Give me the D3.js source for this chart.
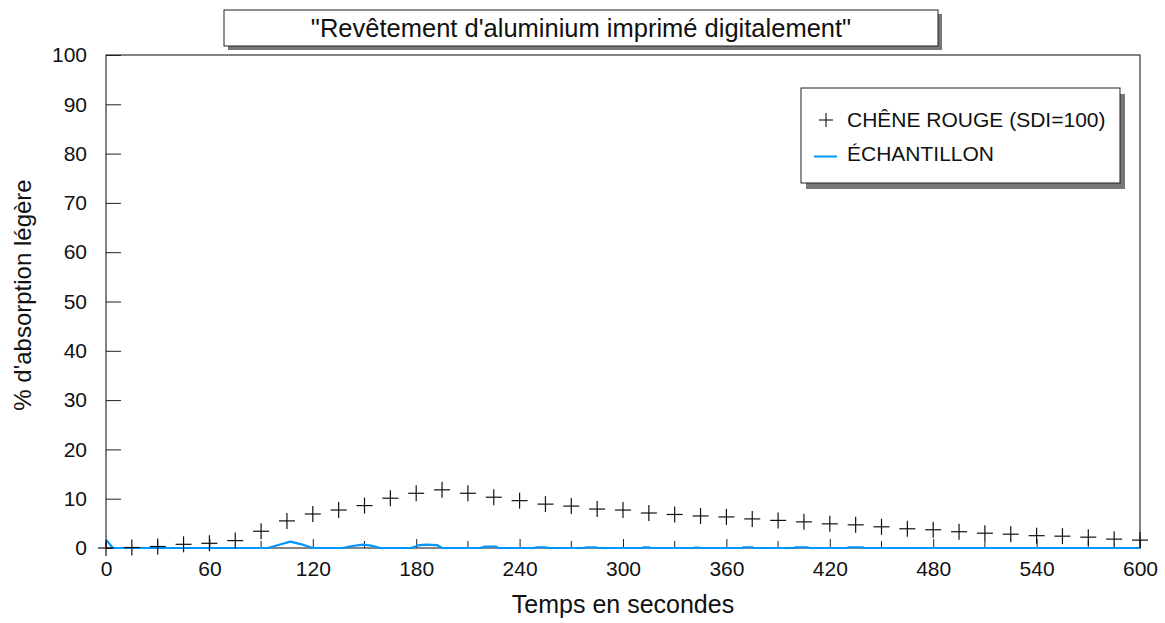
<!DOCTYPE html>
<html>
<head>
<meta charset="utf-8">
<script src="https://cdn.jsdelivr.net/npm/d3@7"></script>
<style>
  body { margin: 0; background: #fff; }
  svg { display: block; font-family: "Liberation Sans", Arial, sans-serif; }
</style>
</head>
<body>
<svg id="chart" width="1165" height="623"></svg>
<script>
// Chêne rouge (référence), un point toutes les 15 s
var oakTimes = [0, 15, 30, 45, 60, 75, 90, 105, 120, 135, 150, 165, 180, 195, 210, 225, 240, 255, 270, 285,
                300, 315, 330, 345, 360, 375, 390, 405, 420, 435, 450, 465, 480, 495, 510, 525, 540, 555, 570, 585, 600];
var oakValues = [0, 0.1, 0.3, 0.75, 0.95, 1.5, 3.4, 5.5, 6.9, 7.7, 8.6, 10.1, 11.1, 11.8, 11.1, 10.3, 9.6, 8.9, 8.5, 7.9,
                 7.7, 7.1, 6.8, 6.5, 6.3, 5.9, 5.6, 5.3, 4.9, 4.7, 4.3, 3.9, 3.7, 3.3, 3.0, 2.8, 2.5, 2.4, 2.2, 1.8, 1.6];

// Échantillon
var sampleTimes = [0, 4, 94, 100, 107, 113, 120, 137, 143, 149, 154, 159, 177, 182, 186, 192, 195,
                   217, 220, 226, 228, 248, 250, 255, 257, 277, 279, 284, 286, 311, 312, 315, 316,
                   341, 342, 344, 345, 369, 370, 375, 376, 399, 400, 407, 408, 430, 431, 439, 440, 600];
var sampleValues = [1.7, 0, 0, 0.6, 1.3, 0.8, 0, 0, 0.4, 0.7, 0.5, 0, 0, 0.6, 0.7, 0.6, 0,
                    0, 0.3, 0.3, 0, 0, 0.15, 0.15, 0, 0, 0.15, 0.15, 0, 0, 0.15, 0.15, 0,
                    0, 0.1, 0.1, 0, 0, 0.15, 0.15, 0, 0, 0.15, 0.15, 0, 0, 0.15, 0.15, 0, 0];

var xTicks = [0, 60, 120, 180, 240, 300, 360, 420, 480, 540, 600];
var xMinorTicks = [30, 90, 150, 210, 270, 330, 390, 450, 510, 570];
var yTicks = [0, 10, 20, 30, 40, 50, 60, 70, 80, 90, 100];

var titleText = "\"Revêtement d'aluminium imprimé digitalement\"";
var legendLabels = ["CHÊNE ROUGE (SDI=100)", "ÉCHANTILLON"];

var svg = d3.select("#chart"),
    margin = {top: 55, right: 25, bottom: 75, left: 106},
    width = +svg.attr("width") - margin.left - margin.right,
    height = +svg.attr("height") - margin.top - margin.bottom,
    g = svg.append("g").attr("transform", "translate(" + margin.left + "," + margin.top + ")");

var x = d3.scaleLinear().domain([0, 600]).range([0, width]);
var y = d3.scaleLinear().domain([0, 100]).range([height, 0]);

var label = function(parent, px, py, txt, size, anchor, rot) {
  return parent.append("text")
    .attr("transform", "translate(" + px + "," + py + ")" + (rot ? " rotate(" + rot + ")" : ""))
    .attr("dy", "0.35em")
    .attr("text-anchor", anchor || "start")
    .attr("font-size", size)
    .attr("fill", "#111")
    .text(txt);
};

// cadre
g.append("rect")
  .attr("width", width)
  .attr("height", height)
  .attr("fill", "none")
  .attr("stroke", "#333")
  .attr("stroke-width", 1.2);

// axe y : graduations vers l'intérieur
var yAxis = g.append("g")
  .call(d3.axisLeft(y).tickValues(yTicks).tickSize(-15).tickPadding(19));
yAxis.select(".domain").remove();
yAxis.selectAll("line").attr("stroke", "#222");
yAxis.selectAll("text").attr("font-size", 21).attr("fill", "#111")
  .attr("font-family", "Liberation Sans, Arial, sans-serif");

// axe x
var xAxis = g.append("g")
  .attr("transform", "translate(0," + height + ")")
  .call(d3.axisBottom(x).tickValues(xTicks).tickSize(-9).tickPadding(13));
xAxis.select(".domain").remove();
xAxis.selectAll("line").attr("stroke", "#222");
xAxis.selectAll("text").attr("font-size", 21).attr("fill", "#111")
  .attr("font-family", "Liberation Sans, Arial, sans-serif");

g.append("g")
  .selectAll("line")
  .data(xMinorTicks)
  .enter()
  .append("line")
  .attr("x1", function(d) { return x(d); })
  .attr("x2", function(d) { return x(d); })
  .attr("y1", height)
  .attr("y2", height - 7)
  .attr("stroke", "#222");

// série échantillon
var line = d3.line()
  .x(function(d, i) { return x(sampleTimes[i]); })
  .y(function(d) { return y(d); });

g.append("path")
  .datum(sampleValues)
  .attr("fill", "none")
  .attr("stroke", "#0096ff")
  .attr("stroke-width", 2.2)
  .attr("stroke-linejoin", "round")
  .attr("d", line);

// série chêne rouge : croix
var cross = function(sel, s) {
  sel.append("line").attr("x1", -s).attr("x2", s).attr("y1", 0).attr("y2", 0);
  sel.append("line").attr("x1", 0).attr("x2", 0).attr("y1", -s).attr("y2", s);
};

g.append("g")
  .attr("stroke", "#111")
  .attr("stroke-width", 1.2)
  .selectAll("g")
  .data(oakValues)
  .enter()
  .append("g")
  .attr("transform", function(d, i) { return "translate(" + x(oakTimes[i]) + "," + y(d) + ")"; })
  .call(cross, 8);

// titre encadré avec ombre
var tb = {x: 224, y: 10, w: 714, h: 36};
svg.append("rect").attr("x", tb.x + 4).attr("y", tb.y + 4).attr("width", tb.w).attr("height", tb.h).attr("fill", "#777");
svg.append("rect").attr("x", tb.x).attr("y", tb.y).attr("width", tb.w).attr("height", tb.h)
  .attr("fill", "#fff").attr("stroke", "#222").attr("stroke-width", 1);
label(svg, tb.x + tb.w / 2, tb.y + tb.h / 2, titleText, 25.5, "middle");

// légende
var lb = {x: 801, y: 88, w: 319, h: 95};
svg.append("rect").attr("x", lb.x + 5).attr("y", lb.y + 6).attr("width", lb.w).attr("height", lb.h).attr("fill", "#777");
svg.append("rect").attr("x", lb.x).attr("y", lb.y).attr("width", lb.w).attr("height", lb.h)
  .attr("fill", "#fff").attr("stroke", "#222").attr("stroke-width", 1);

var leg1 = svg.append("g").attr("transform", "translate(826,120)");
leg1.append("g").attr("stroke", "#111").attr("stroke-width", 1.1).call(cross, 7);
label(leg1, 21, 0, legendLabels[0], 21, "start");

var leg2 = svg.append("g").attr("transform", "translate(826,155)");
leg2.append("line").attr("x1", -12).attr("x2", 11).attr("y1", 1.5).attr("y2", 1.5).attr("stroke", "#0096ff").attr("stroke-width", 2);
label(leg2, 21, -1, legendLabels[1], 21, "start");

// titres d'axes
label(svg, margin.left + width / 2, 604, "Temps en secondes", 25, "middle");
label(svg, 23, 295, "% d'absorption légère", 24, "middle", -90);
</script>
</body>
</html>
